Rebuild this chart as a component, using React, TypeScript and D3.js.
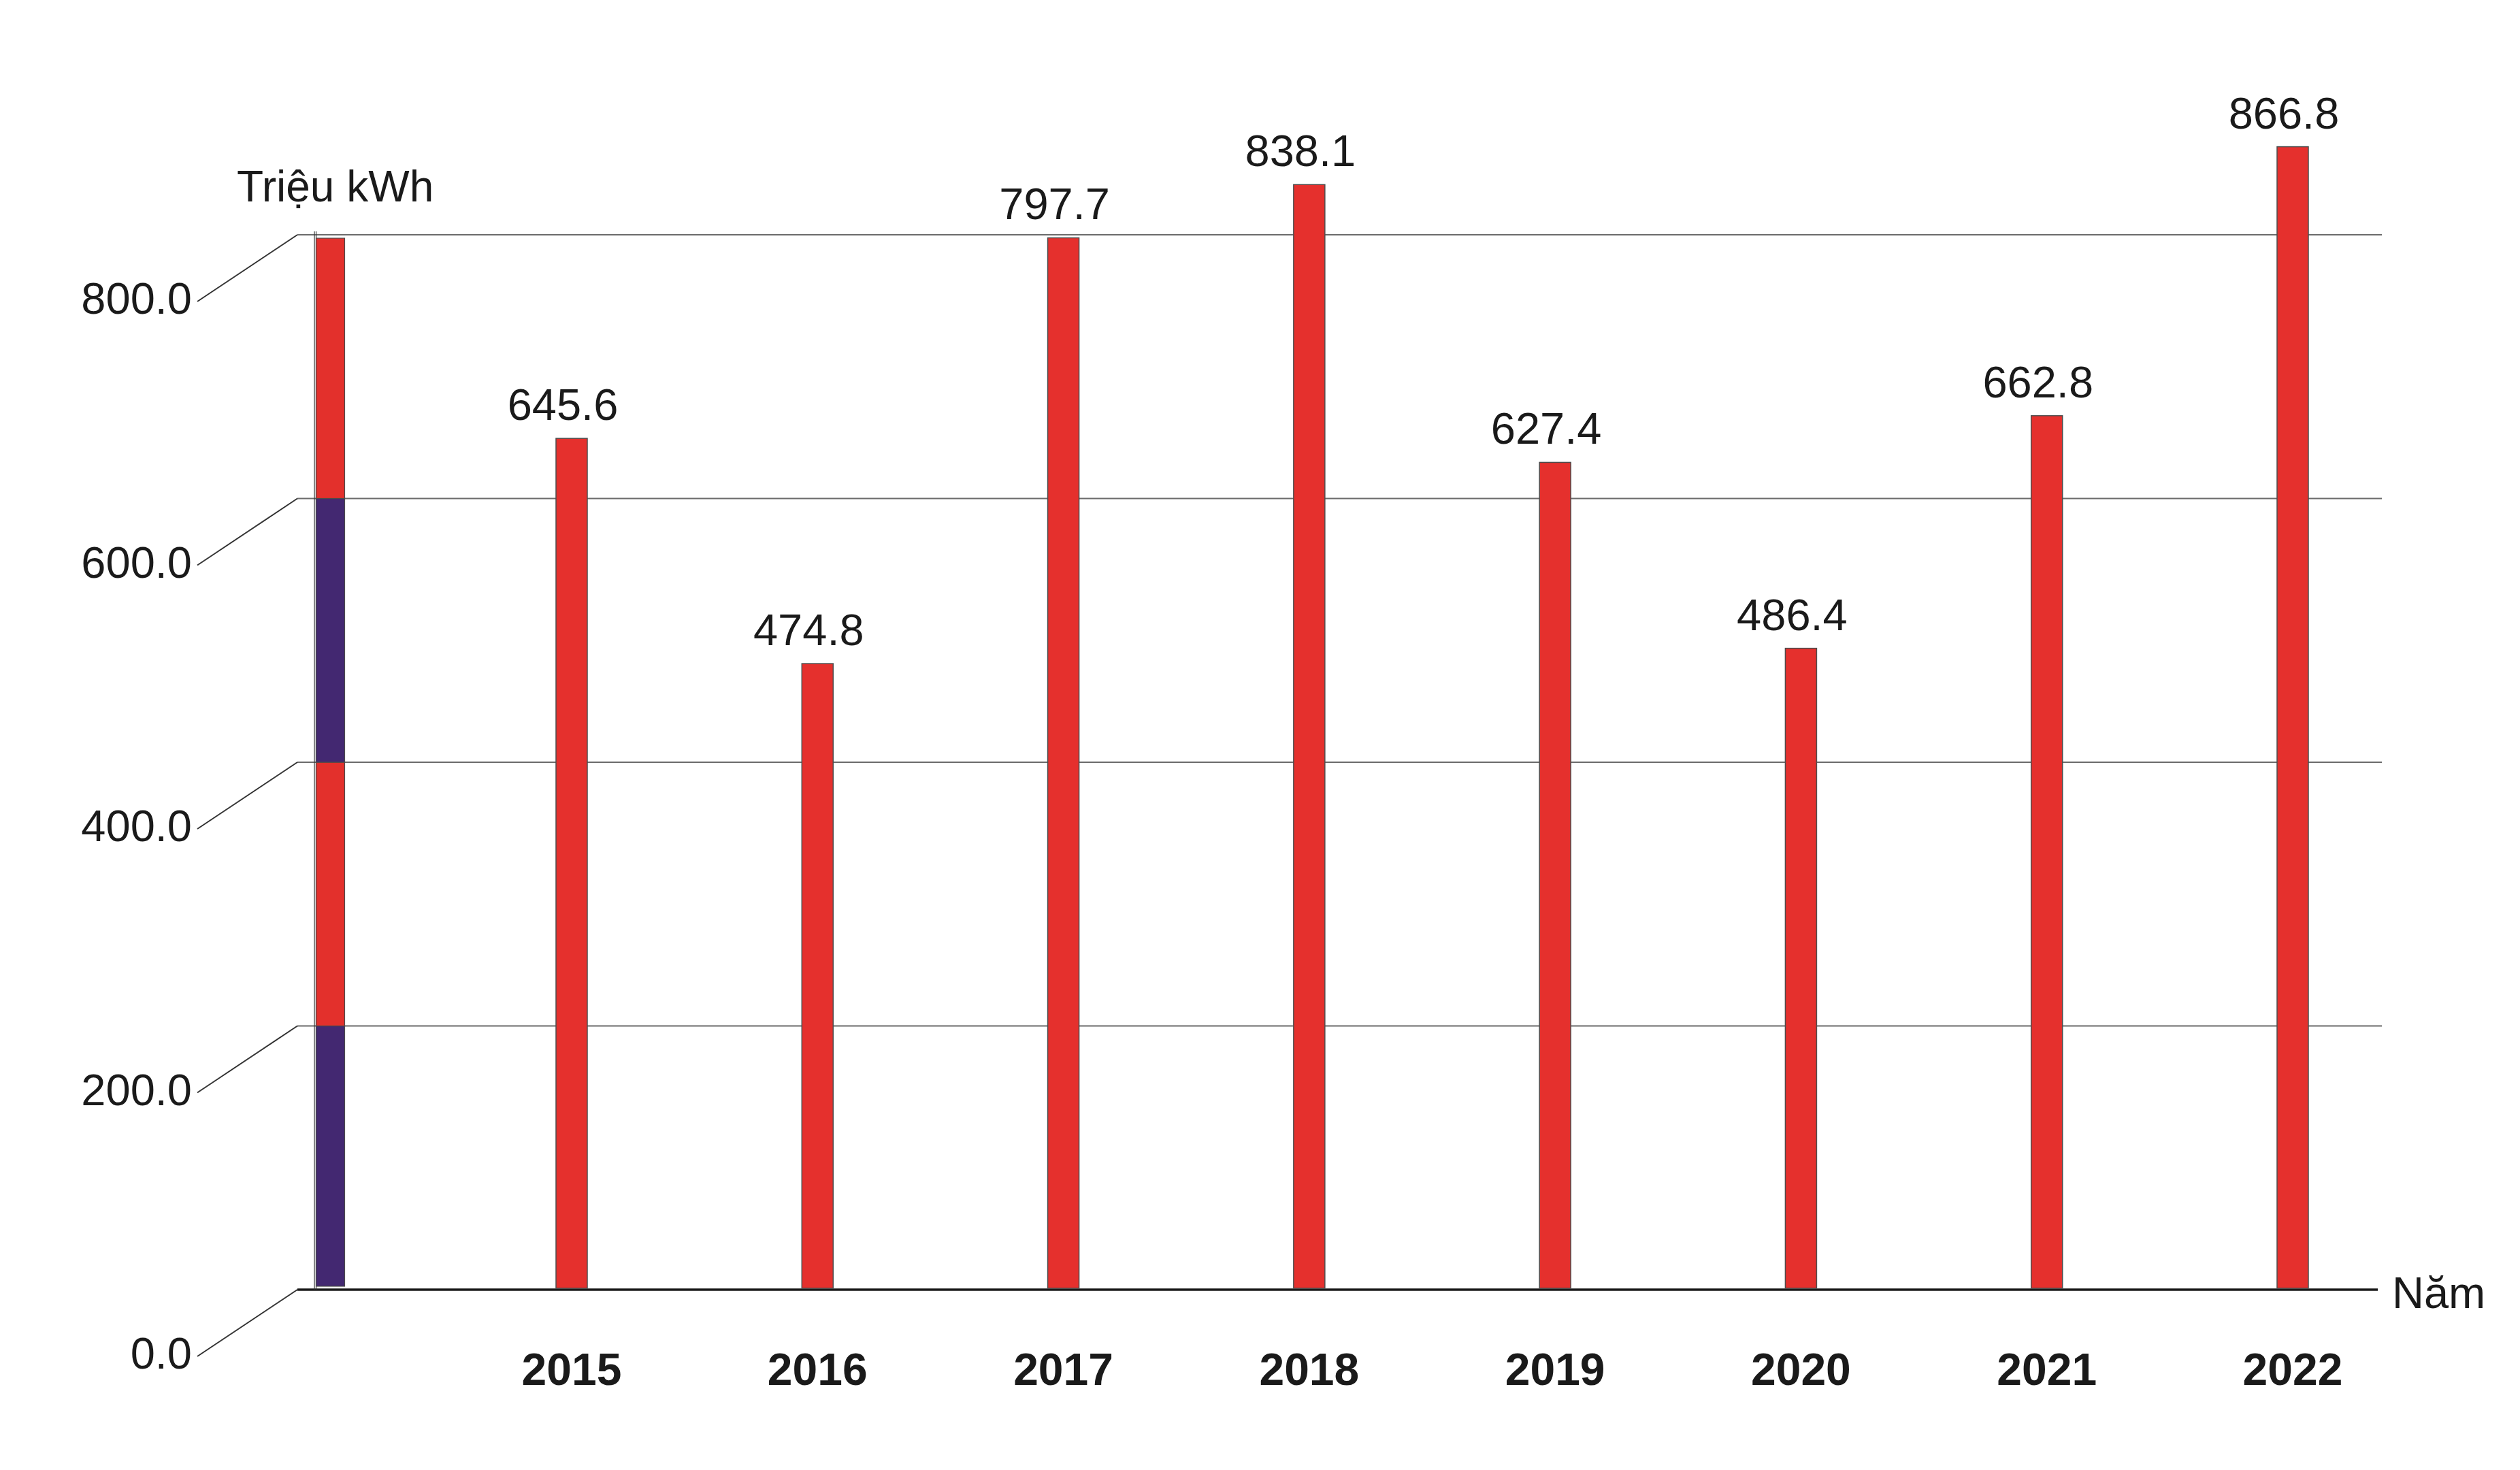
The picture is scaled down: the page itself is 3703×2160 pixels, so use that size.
import { useEffect, useRef } from 'react'
import * as d3 from 'd3'

const years = ['2015', '2016', '2017', '2018', '2019', '2020', '2021', '2022']
const output = [645.6, 474.8, 797.7, 838.1, 627.4, 486.4, 662.8, 866.8]
const yTicks = [0, 200, 400, 600, 800]
// the striped bar that sits on the y axis, one colour per 200 step
const axisStripeColors = ['#432871', '#e3302c', '#432871', '#e3302c']

const W = 3703
const H = 2160
const FONT = '"Liberation Sans", Arial, sans-serif'

export default function App() {
  const svgRef = useRef<SVGSVGElement>(null)

  useEffect(() => {
    if (!svgRef.current) return
    const svg = d3.select(svgRef.current)
    svg.selectAll('*').remove()

    const wallLeft = 462
    const gridLeft = 437
    const gridRight = 3500
    const barW = 46

    const x = d3.scalePoint<string>().domain(years).range([840, 3369])
    const y = d3.scaleLinear().domain([0, 800]).range([1895, 345])

    // gridlines + perspective diagonals + tick labels
    yTicks.forEach(t => {
      const yy = y(t)
      const isBase = t === 0
      svg.append('line')
        .attr('x1', gridLeft).attr('x2', isBase ? gridRight - 6 : gridRight)
        .attr('y1', yy).attr('y2', yy)
        .attr('stroke', isBase ? '#1a1a1a' : '#6b6b6b')
        .attr('stroke-width', isBase ? 3.5 : 2)
      svg.append('line')
        .attr('x1', gridLeft).attr('y1', yy)
        .attr('x2', 290).attr('y2', yy + 98)
        .attr('stroke', '#333')
        .attr('stroke-width', 2)
      svg.append('text')
        .attr('x', 282).attr('y', yy + 116)
        .attr('text-anchor', 'end')
        .style('font-family', FONT)
        .style('font-size', '65px')
        .style('fill', '#1a1a1a')
        .text(t.toFixed(1))
    })

    // back wall edge (double thin line)
    ;[wallLeft, wallLeft + 2.5].forEach(vx => {
      svg.append('line')
        .attr('x1', vx).attr('x2', vx)
        .attr('y1', y(800) - 5).attr('y2', y(0))
        .attr('stroke', '#333')
        .attr('stroke-width', 1.2)
    })

    // striped axis bar
    axisStripeColors.forEach((c, i) => {
      const lo = yTicks[i]
      const hi = yTicks[i + 1]
      const top = y(hi) + (i === axisStripeColors.length - 1 ? 5 : 0)
      const bottom = y(lo) - (i === 0 ? 5 : 0)
      svg.append('rect')
        .attr('x', wallLeft + 2.5).attr('y', top)
        .attr('width', 42).attr('height', bottom - top)
        .attr('fill', c)
        .attr('stroke', '#4a4a4a')
        .attr('stroke-width', 1.2)
    })

    // bars
    years.forEach((yr, i) => {
      const cx = x(yr) as number
      const top = y(output[i])
      svg.append('rect')
        .attr('x', cx - barW / 2).attr('y', top)
        .attr('width', barW).attr('height', y(0) - top - 2)
        .attr('fill', '#e5302d')
        .attr('stroke', '#4d4d4d')
        .attr('stroke-width', 1.5)

      svg.append('text')
        .attr('x', cx - 13).attr('y', top - 27)
        .attr('text-anchor', 'middle')
        .style('font-family', FONT)
        .style('font-size', '65px')
        .style('fill', '#1a1a1a')
        .text(output[i].toFixed(1))

      svg.append('text')
        .attr('x', cx).attr('y', 2035)
        .attr('text-anchor', 'middle')
        .style('font-family', FONT)
        .style('font-weight', 'bold')
        .style('font-size', '66px')
        .style('fill', '#1a1a1a')
        .text(yr)
    })

    svg.append('text')
      .attr('x', 348).attr('y', 296)
      .style('font-family', FONT)
      .style('font-size', '64px')
      .style('fill', '#1a1a1a')
      .text('Triệu kWh')

    svg.append('text')
      .attr('x', 3515).attr('y', 1922)
      .style('font-family', FONT)
      .style('font-size', '65px')
      .style('fill', '#1a1a1a')
      .text('Năm')
  }, [])

  return (
    <svg
      ref={svgRef}
      width={W}
      height={H}
      style={{ position: 'absolute', left: 0, top: 0, background: '#fff' }}
    />
  )
}
